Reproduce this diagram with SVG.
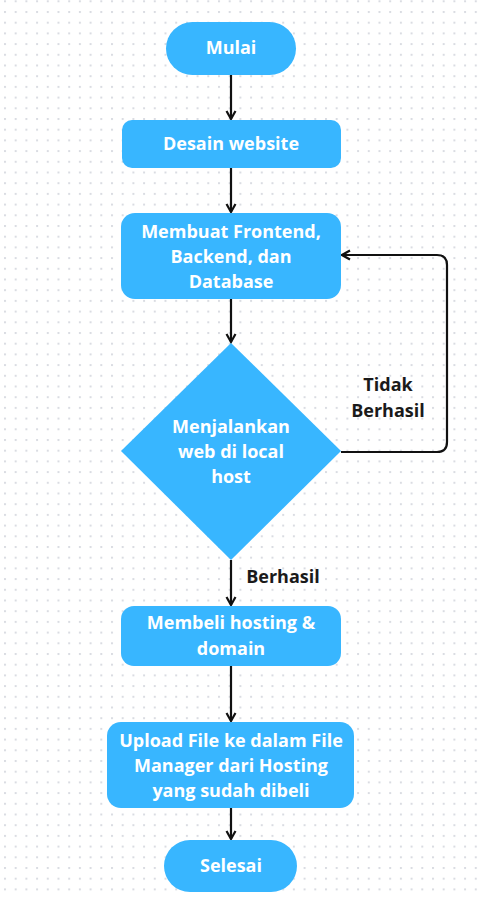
<svg xmlns="http://www.w3.org/2000/svg" width="479" height="899" viewBox="0 0 479 899">
<style>
.n{fill:#38b6ff}
.t{font-family:"Open Sans","Liberation Sans",sans-serif;font-weight:bold;font-size:18px;fill:#ffffff;text-anchor:middle}
.l{font-family:"Open Sans","Liberation Sans",sans-serif;font-weight:bold;font-size:18px;fill:#1a1a1a;text-anchor:middle}
.c{fill:none;stroke:#111111;stroke-width:2.2}
</style>
<defs>
<pattern id="dots" x="4" y="11" width="10.7" height="10.7" patternUnits="userSpaceOnUse">
<rect x="0" y="0" width="2" height="2" fill="#dadce2"/>
</pattern>
<marker id="ah" viewBox="0 0 12 12" refX="10" refY="6" markerWidth="12" markerHeight="12" markerUnits="userSpaceOnUse" orient="auto">
<path d="M2,1.5 L10,6 L2,10.5" fill="none" stroke="#111111" stroke-width="2.2"/>
</marker>
</defs>
<rect width="479" height="899" fill="#ffffff"/>
<rect width="479" height="899" fill="url(#dots)"/>
<g id="connectors">
<line class="c" x1="231" y1="75" x2="231" y2="119" marker-end="url(#ah)"/>
<line class="c" x1="231" y1="168" x2="231" y2="212" marker-end="url(#ah)"/>
<line class="c" x1="231" y1="299" x2="231" y2="342" marker-end="url(#ah)"/>
<line class="c" x1="231" y1="560" x2="231" y2="605" marker-end="url(#ah)"/>
<line class="c" x1="231" y1="666" x2="231" y2="721" marker-end="url(#ah)"/>
<line class="c" x1="231" y1="808" x2="231" y2="839" marker-end="url(#ah)"/>
<path class="c" d="M341,452 H437 Q447,452 447,442 V265 Q447,255 437,255 H342" marker-end="url(#ah)"/>
<text class="l" x="388" y="391">Tidak</text>
<text class="l" x="388" y="417">Berhasil</text>
<text class="l" x="283" y="583">Berhasil</text>
</g>
<g id="mulai">
<rect class="n" x="166" y="22" width="130" height="53" rx="26.5"/>
<text class="t" x="231" y="54">Mulai</text>
</g>
<g id="desain">
<rect class="n" x="122" y="120" width="219" height="48" rx="10"/>
<text class="t" x="231" y="150">Desain website</text>
</g>
<g id="membuat">
<rect class="n" x="121" y="213" width="220" height="86" rx="14"/>
<text class="t" x="231" y="238">Membuat Frontend,</text>
<text class="t" x="231" y="263">Backend, dan</text>
<text class="t" x="231" y="288">Database</text>
</g>
<g id="menjalankan">
<polygon class="n" points="231,343 341,451 231,560 121,451"/>
<text class="t" x="231" y="433">Menjalankan</text>
<text class="t" x="231" y="458">web di local</text>
<text class="t" x="231" y="483">host</text>
</g>
<g id="membeli">
<rect class="n" x="121" y="606" width="220" height="60" rx="13"/>
<text class="t" x="231" y="629">Membeli hosting &amp;</text>
<text class="t" x="231" y="655">domain</text>
</g>
<g id="upload">
<rect class="n" x="107" y="722" width="247" height="86" rx="14"/>
<text class="t" x="231" y="747">Upload File ke dalam File</text>
<text class="t" x="231" y="772">Manager dari Hosting</text>
<text class="t" x="231" y="797">yang sudah dibeli</text>
</g>
<g id="selesai">
<rect class="n" x="164" y="840" width="133" height="52" rx="26"/>
<text class="t" x="231" y="872">Selesai</text>
</g>
</svg>
